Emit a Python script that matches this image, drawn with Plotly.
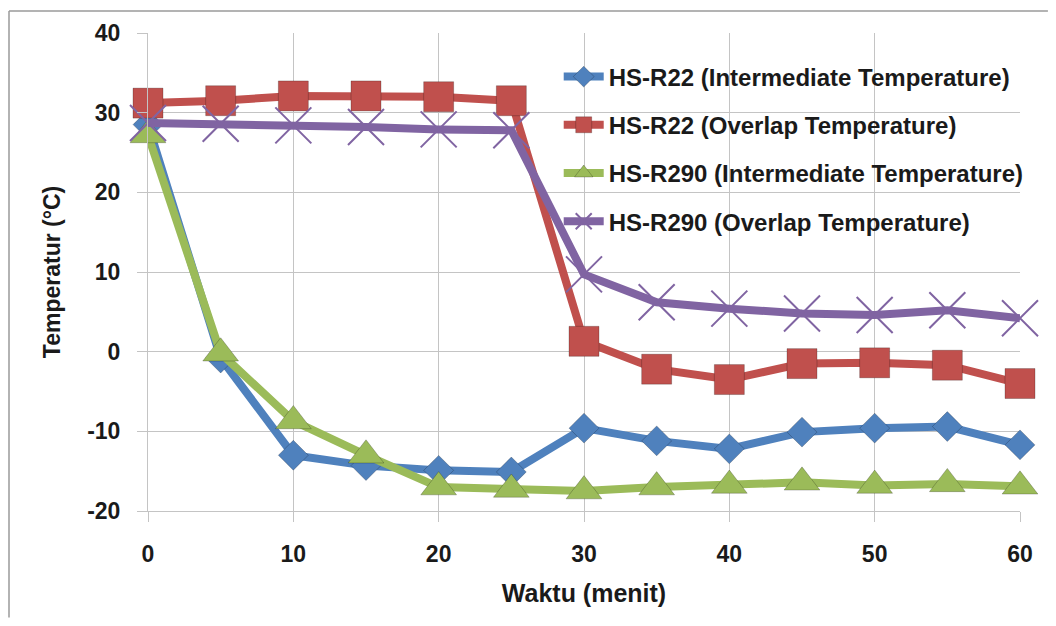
import plotly.graph_objects as go

waktu = [0, 5, 10, 15, 20, 25, 30, 35, 40, 45, 50, 55, 60]
r22_intermediate = [28.5, -0.8, -13.0, -14.3, -14.9, -15.1, -9.6, -11.2, -12.2, -10.1, -9.6, -9.4, -11.7]
r22_overlap = [31.2, 31.5, 32.1, 32.1, 32.0, 31.5, 1.3, -2.2, -3.5, -1.5, -1.4, -1.7, -4.0]
r290_intermediate = [27.2, -0.2, -8.7, -13.0, -17.0, -17.3, -17.5, -17.0, -16.8, -16.4, -16.8, -16.6, -16.9]
r290_overlap = [28.7, 28.6, 28.4, 28.2, 27.9, 27.8, 9.7, 6.2, 5.4, 4.8, 4.6, 5.2, 4.2]

names = [
    "HS-R22 (Intermediate Temperature)",
    "HS-R22 (Overlap Temperature)",
    "HS-R290 (Intermediate Temperature)",
    "HS-R290 (Overlap Temperature)",
]

x_ticks = [0, 10, 20, 30, 40, 50, 60]
x_ticklabels = ["0", "10", "20", "30", "40", "50", "60"]
y_ticks = [-20, -10, 0, 10, 20, 30, 40]
y_ticklabels = ["-20", "-10", "0", "10", "20", "30", "40"]

series = [r22_intermediate, r22_overlap, r290_intermediate, r290_overlap]
colors = ["#4F81BD", "#C0504D", "#9BBB59", "#8064A2"]
symbols = ["diamond", "square", "triangle-up", "x-thin"]
sizes = [23, 30, 31, 36]

fig = go.Figure()
for i, (name, ys) in enumerate(zip(names, series)):
    marker = dict(symbol=symbols[i], size=sizes[i], color=colors[i])
    if symbols[i] == "x-thin":
        marker["line"] = dict(color=colors[i], width=2)
    else:
        marker["line"] = dict(color="rgba(0,0,0,0.22)", width=1)
    fig.add_trace(go.Scatter(
        x=waktu, y=ys, name=name, mode="lines+markers",
        line=dict(color=colors[i], width=8),
        marker=marker, legendgroup=f"g{i}", cliponaxis=False,
    ))

font_family = "Liberation Sans, Arial, sans-serif"
txt = "#1a1a1a"

fig.update_layout(
    width=1040, height=610,
    margin=dict(l=140, r=28, t=23, b=107),
    paper_bgcolor="white", plot_bgcolor="white",
    font=dict(family=font_family, color=txt),
    showlegend=True,
    legend=dict(
        x=0.471, y=0.955, xanchor="left", yanchor="top",
        bgcolor="rgba(0,0,0,0)",
        font=dict(size=24, family=font_family, weight="bold", color=txt),
        traceorder="grouped", tracegroupgap=14,
        itemwidth=40,
    ),
    xaxis=dict(
        range=[0, 60], tickvals=x_ticks, ticktext=x_ticklabels,
        showgrid=True, gridcolor="#C4C4C4", gridwidth=1,
        zeroline=False, showline=True, linecolor="#C4C4C4",
        ticks="outside", ticklen=10, tickcolor="#C4C4C4",
        ticklabelstandoff=12,
        tickfont=dict(size=23, family=font_family, weight="bold", color=txt),
        title=dict(text="Waktu (menit)", font=dict(size=25, family=font_family, weight="bold", color=txt), standoff=18),
    ),
    yaxis=dict(
        range=[-20, 40], tickvals=y_ticks, ticktext=y_ticklabels,
        showgrid=True, gridcolor="#C4C4C4", gridwidth=1,
        zeroline=False, showline=True, linecolor="#C4C4C4",
        ticks="outside", ticklen=10, tickcolor="#C4C4C4",
        ticklabelstandoff=12,
        tickfont=dict(size=23, family=font_family, weight="bold", color=txt),
        title=dict(text="Temperatur (°C)", font=dict(size=23, family=font_family, weight="bold", color=txt), standoff=20),
    ),
    shapes=[
        dict(type="line", xref="paper", yref="paper",
             x0=-0.1594, x1=1.032, y0=1.0458, y1=1.0458,
             line=dict(color="#9A9A9A", width=1.5)),
        dict(type="line", xref="paper", yref="paper",
             x0=-0.1594, x1=-0.1594, y0=1.0458, y1=-0.223,
             line=dict(color="#9A9A9A", width=1.5)),
    ],
)

fig.write_html("out.html")
